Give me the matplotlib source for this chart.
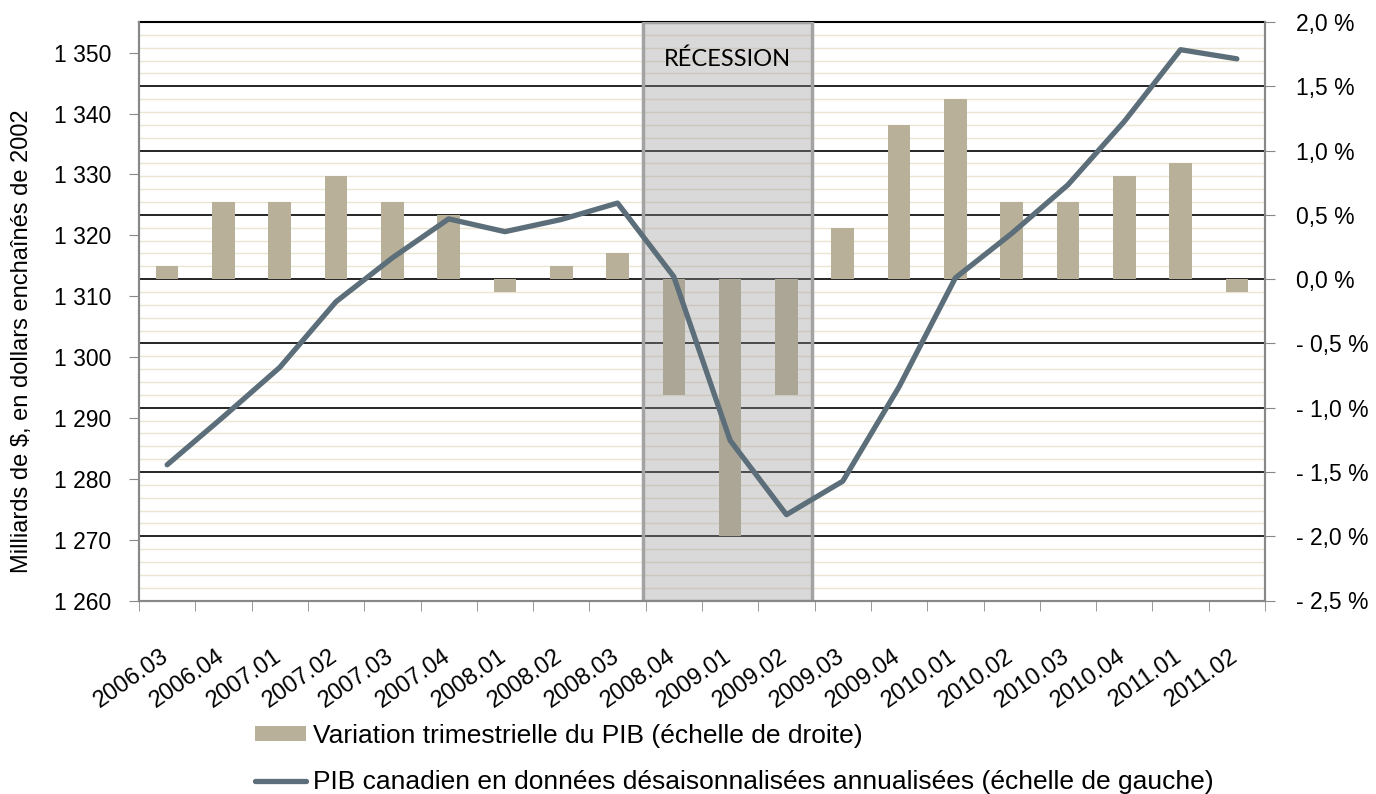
import matplotlib
matplotlib.use('Agg')
import matplotlib.pyplot as plt
import matplotlib.transforms as mtransforms
from matplotlib.patches import Patch
from matplotlib.lines import Line2D
import numpy as np

plt.rcParams['font.family'] = ['Liberation Sans', 'DejaVu Sans']

quarters = ['2006.03', '2006.04', '2007.01', '2007.02', '2007.03', '2007.04',
            '2008.01', '2008.02', '2008.03', '2008.04', '2009.01', '2009.02',
            '2009.03', '2009.04', '2010.01', '2010.02', '2010.03', '2010.04',
            '2011.01', '2011.02']
# variation trimestrielle (%), echelle de droite
variation = [0.1, 0.6, 0.6, 0.8, 0.6, 0.5, -0.1, 0.1, 0.2, -0.9,
             -2.0, -0.9, 0.4, 1.2, 1.4, 0.6, 0.6, 0.8, 0.9, -0.1]
# PIB (milliards $ enchaines de 2002), echelle de gauche
pib = [1282.3, 1290.2, 1298.3, 1309.1, 1316.3, 1322.7, 1320.6, 1322.6,
       1325.3, 1313.2, 1286.3, 1274.1, 1279.6, 1295.1, 1313.0, 1320.3,
       1328.3, 1338.7, 1350.5, 1349.0]
recession = ('2008.04', '2009.02')

bar_color = '#b8b098'
line_color = '#5b6e7a'
axis_gray = '#888888'

fig = plt.figure(figsize=(13.76, 7.94), dpi=100)
ax = fig.add_axes([139/1376, 1 - 600.5/794, 1126/1376, 578.5/794])
ax2 = ax.twinx()
ax.set_zorder(ax2.get_zorder() + 1)
ax.patch.set_visible(False)
ax2.set_facecolor('#f0f0f0')

x = np.arange(len(quarters))

# right axis: bars, stripes, gridlines
ax2.set_ylim(-2.5, 2.0)
rticks = np.arange(-2.5, 2.01, 0.5)
for v in np.arange(-2.4, 2.0, 0.1):
    if abs(v / 0.5 - round(v / 0.5)) > 1e-6:
        ax2.axhline(v, color='#ece5d2', lw=1, zorder=0.5)
for v in rticks[1:]:
    ax2.axhline(v, color='black', lw=1.2, zorder=1)
ax2.bar(x, variation, width=0.4, color=bar_color, zorder=2)

i0 = quarters.index(recession[0])
i1 = quarters.index(recession[1])
ax2.axvspan(i0 - 0.55, i1 + 0.45, facecolor='#949494', alpha=0.35,
            edgecolor='none', zorder=3)
ax2.axvspan(i0 - 0.55, i1 + 0.45, facecolor='none', edgecolor='#a3a3a3',
            lw=2.5, zorder=3.1)
ax2.text((i0 + i1) / 2 - 0.05, 1.71, 'RÉCESSION', ha='center', va='center',
         fontsize=17, family=['Lato', 'DejaVu Sans'], zorder=4)

def pct(v):
    s = f'{abs(v):.1f}'.replace('.', ',') + ' %'
    return '- ' + s if v < -1e-9 else s

ax2.set_yticks(rticks)
ax2.set_yticklabels([pct(v) for v in rticks])
ax2.tick_params(axis='y', length=7, color=axis_gray, labelsize=16.5, pad=15)

# left axis: line
ax.plot(x, pib, color=line_color, lw=3.8, solid_capstyle='round',
        solid_joinstyle='round', zorder=5)
ax.set_ylim(1260, 1355.05)
lticks = np.arange(1260, 1351, 10)
ax.set_yticks(lticks)
ax.set_yticklabels([f'{int(v) // 1000} {int(v) % 1000:03d}' for v in lticks])
ax.tick_params(axis='y', length=7, color=axis_gray, labelsize=16.5, pad=13)
ax.set_ylabel('Milliards de $, en dollars enchaînés de 2002', fontsize=17)
ax.yaxis.set_label_coords(-0.094, 0.448)

ax.set_xlim(-0.5, len(quarters) - 0.5)
ax.set_xticks(x)
ax.set_xticks(np.arange(-0.5, len(quarters)), minor=True)
ax.set_xticklabels(quarters, rotation=35, ha='right', va='top',
                   rotation_mode='anchor', fontsize=17)
ax.tick_params(axis='x', which='major', length=0, pad=32)
ax.tick_params(axis='x', which='minor', length=7, color=axis_gray)
off = mtransforms.ScaledTranslation(-7 / 100, 0, fig.dpi_scale_trans)
for lab in ax.get_xticklabels():
    lab.set_transform(lab.get_transform() + off)

for a in (ax, ax2):
    for s in a.spines.values():
        s.set_color(axis_gray)
        s.set_linewidth(1.5)
ax2.spines['top'].set_color('black')
ax.spines['top'].set_visible(False)

handles = [Patch(facecolor=bar_color, edgecolor='none'),
           Line2D([], [], color=line_color, lw=3.8, solid_capstyle='round')]
labels = ['Variation trimestrielle du PIB (échelle de droite)',
          'PIB canadien en données désaisonnalisées annualisées (échelle de gauche)']
fig.legend(handles, labels, loc='upper left',
           bbox_to_anchor=(255/1376, 1 - 724/794), frameon=False,
           fontsize=19, handlelength=1.95, handleheight=0.5,
           handletextpad=0.23, labelspacing=0.85, borderpad=0,
           borderaxespad=0)

fig.savefig('out.png', dpi=100)
